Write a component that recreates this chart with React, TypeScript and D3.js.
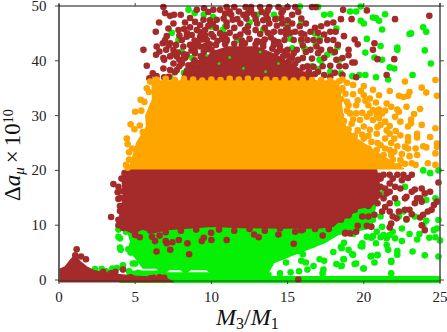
import React from 'react';
import * as d3 from 'd3';

type Pt = [number, number];

/* ─── Axis ticks ─── */
const X_TICKS = [0, 5, 10, 15, 20, 25];
const Y_TICKS = [0, 10, 20, 30, 40, 50];

/* ─── Dense clouds: outlines, the points inside can't be told apart ─── */
const GREEN_MASS: Pt[] = [[3.9, 10], [4.5, 9], [4.7, 7], [4.55, 5.5], [5.1, 3.8], [5.5, 2.2], [6.4, 2.2], [6.6, 1.4], [7, 1.4], [7.2, 1.9], [8, 1.9], [8.3, 1.2], [8.6, 1.9], [9.7, 1.9], [10, 1.2], [13.7, 1.2], [14.1, 3.2], [15.2, 4.4], [16.3, 5.6], [17.4, 6.8], [18.3, 8.3], [19.5, 9], [20.5, 9.5], [20.8, 14], [5, 14]];
const GREEN_BAND_LEFT: Pt[] = [[4.5, 1.6], [5.5, 1.6], [6.4, 1.6], [7, 1.3], [9, 1.3], [11, 1.3], [13.9, 1.3], [13.9, 0], [4.5, 0]];
const GREEN_BAND: Pt[] = [[4, 0.6], [25, 0.6], [25, -0.4], [4, -0.4]];
const BROWN_LOW: Pt[] = [[0, -0.3], [0, 1.9], [0.4, 2.4], [0.8, 3.8], [1.05, 4.5], [1.4, 3.3], [1.8, 2.4], [2.3, 1.7], [3.5, 1.1], [5, 0.7], [7, 0.3], [7.5, -0.3]];
const BROWN_MASS: Pt[] = [[4.45, 20.5], [4.15, 18], [4.25, 15.5], [4, 12], [3.9, 10], [4.4, 9.1], [4.8, 8.6], [5.5, 9.3], [6.2, 8.6], [7.1, 9.2], [8, 9.4], [9, 9.6], [10, 9.8], [12, 9.6], [15, 9.5], [17, 9.5], [18, 9.8], [18.4, 10.8], [19.1, 11.7], [19.5, 13], [20.5, 13.5], [21, 15], [21, 18], [20.8, 20.5]];
const BROWN_TOP_MASS: Pt[] = [[8, 36], [8.2, 38], [9.3, 39.5], [10, 41.5], [11, 42.5], [13, 42.5], [14.3, 41], [15.5, 39], [16.5, 37], [17, 36]];
const ORANGE_MASS: Pt[] = [[6.1, 36.3], [6.15, 33], [5.7, 30], [5.75, 28], [5.1, 25], [4.9, 23], [4.6, 20.3], [22.6, 20.3], [22, 21.3], [21, 23], [20.2, 24.5], [19.4, 26], [18.8, 28], [18.6, 30], [18.5, 33], [18.3, 36.3]];

/* ─── Points that stand out on their own ─── */
const GREEN_POINTS: Pt[] = [
  [15.8, 49.9], [17, 49.8], [19.8, 49.9], [17.4, 48.4], [17.8, 48.5], [19.1, 49], [19.5, 49], [20, 46.8], [19.8, 47.3], [20.6, 47.9], [20.8, 47.8], [21, 47.3], [21.4, 48.5], [21.2, 45.7],
  [20.2, 44], [21.1, 42.7], [20.1, 41.5], [22.2, 42.4], [22.2, 42], [24, 41.9], [23, 44.9], [23.1, 45], [23.9, 46.1], [24.1, 45.3], [24.4, 39.5], [21.2, 40.2], [20.7, 40.6], [21.7, 38.8], [22, 38.6],
  [23.2, 37.4], [21.6, 36.6], [20.8, 37], [20.1, 37.4], [19.7, 37.4], [19.25, 37.2], [18.5, 37.7], [18.27, 42.5], [18, 41.5], [17.6, 41.1], [18.4, 40.2], [17.2, 40], [17, 38.5], [16.6, 39],
  [15.9, 47], [16.8, 45], [15.2, 44], [16, 40.5], [18.2, 45.9], [17.1, 44], [16.2, 42],
  [7.4, 45.1], [7.84, 43.8], [8.05, 41.7], [8.2, 37.8], [7.3, 37], [8.75, 40.5], [8.5, 49.3], [8.9, 48.7], [9.5, 48.4], [9.96, 46.2], [10.1, 48], [10.75, 45.6], [10.9, 46.2], [11.7, 43.8], [12.5, 47], [13, 48.4], [13.4, 45.7], [14.1, 48.4], [14.3, 47.7], [15, 46.8], [15.3, 42.3], [15.9, 43.5], [16.85, 42.9], [17.1, 40.2], [17.8, 38], [15.5, 37.4], [16.1, 42.3],
  [3.9, 9.2], [3.9, 7.9], [4, 7.6], [4, 5.9], [4.05, 5.5], [4.55, 5.6], [4.7, 5], [4.84, 3], [5, 3], [2.37, 2], [2.8, 2], [3.1, 1.6], [3.8, 2.2], [4.2, 2.7], [4.6, 1.6], [5.2, 1.3], [3.5, 2.1], [4.4, 8.8],
  [14.1, 4.7], [14.5, 4.3], [14.9, 3.2], [15.9, 3.5], [16.2, 3.2], [16, 4.7], [16.7, 2.55], [16.3, 1.9], [15.75, 1.6], [17.4, 3.5], [17.35, 1.9], [17.1, 3.8], [18, 5.1], [18.5, 6], [18.7, 3.8], [18.2, 2.9], [18.5, 2.55], [19.5, 3], [20, 2.1], [20.5, 4.4], [20.9, 4.5], [20.7, 3.2], [21.8, 3.5], [21.8, 1.2], [22.2, 5.3], [23.2, 5.2], [24, 4.5], [24.9, 4.3], [19.25, 4.7], [19.8, 6.2], [20.5, 7.7], [18.7, 6.8],
  [18.66, 3.8], [19.4, 2.9], [19.97, 2.1], [18.55, 2.6], [19.3, 4.6], [19, 5.5], [18.55, 5.8], [19.9, 6.1], [19.9, 6.7], [20.45, 4.3], [20.9, 4.6], [21.8, 3.3], [22.2, 4.6], [21.6, 5.5], [21.5, 6.4], [20.8, 6.7], [22.5, 7.1], [22.05, 7.6], [21.5, 7.6], [21.1, 7.8], [20.6, 8], [20.2, 7.9], [23, 8.4], [23.5, 7.4], [23.65, 8.4], [24.3, 7.7], [24.7, 7.8], [25, 7.2], [24.6, 9.1], [24.8, 9.4], [24.9, 10.95], [24.1, 10.8], [23.9, 10], [23.35, 11.6], [22.8, 11], [22.6, 12.5], [23.9, 20], [24.9, 20], [24.35, 19.5], [21.1, 15.8], [22.7, 17], [24.1, 14.6], [24.7, 14.9], [22.2, 14], [22.3, 11.6], [21.1, 11.6], [20.6, 11], [21.2, 9.7], [20.85, 8.8], [21.3, 8.2], [21.7, 8.2], [21.9, 8.8], [22.5, 9.4], [15.2, 1.4], [14.5, 1.2], [17.3, 1.2], [19.3, 8.4], [18.2, 8.9], [17.5, 7.6], [16.6, 6.4], [15.7, 5.3], [14.9, 4.6],
];

const BROWN_POINTS: Pt[] = [
  [6.85, 49.8], [6.96, 48.7], [7.29, 48.2], [7.55, 48.4], [7.99, 48.4], [8.27, 47], [7.51, 46.8], [7.18, 45.9], [7.84, 45.6], [8.21, 45.8], [7.07, 44.5], [6.96, 43.8], [7.29, 43.2], [6.81, 43.2], [6.41, 42.6], [6.59, 41.7], [6.37, 41.1], [7.03, 42], [7.51, 42], [7.68, 42.9], [8.06, 43.8], [8.38, 44.4], [8.71, 44.7], [9.04, 45.6], [9.26, 46.5], [9.59, 45.6], [9.04, 49.3], [9.52, 49.6], [10.13, 49.3], [10.57, 49.3], [8.6, 47.8], [8.93, 47.1], [9.48, 47.5], [10.35, 47.5], [10.57, 45], [10.13, 44.4], [9.7, 43.8], [9.26, 44.4], [8.6, 42.9], [8.16, 42.6], [8.38, 41.1], [7.73, 40.8], [7.29, 40.8], [6.85, 40.5], [7.51, 39.5], [6.85, 38.6], [7.29, 38.3], [7.73, 38.3], [8.06, 39.5], [8.49, 39.2], [8.93, 41.4], [9.26, 42.6],
  [5.54, 42], [5.76, 39.1], [6.15, 37.7], [5.93, 36.8], [6.35, 45.3], [6.57, 47], [6.4, 37.2], [6.9, 37], [7.2, 37.1],
  [11, 49.8], [11.5, 49.8], [12.25, 49.8], [12.6, 49.8], [13.2, 49.8], [13.8, 49.8], [14.4, 49.8], [15, 49.8], [15.5, 49.8], [16.6, 49.8], [16.85, 49.8],
  [11.3, 48.4], [12.1, 48.4], [12.8, 48.4], [13.6, 48.4], [15.3, 48.4], [16.2, 46.8], [15.3, 46.8], [14.65, 46.8], [13.8, 46.8], [13, 46.8], [11.9, 46.8], [17.6, 46.8], [18, 47],
  [14.1, 45.3], [14.55, 45.3], [15.5, 45.3], [16.5, 45.3], [17.8, 45.3], [18.15, 45.3], [18.7, 44.5], [14.8, 43.8], [15.4, 43.8], [16.3, 43.8], [16.7, 43.8], [17.6, 43.8], [15, 42], [15.6, 42], [16.5, 42], [17.2, 42], [17.8, 42], [19, 42], [15.3, 40.5], [16, 40.5], [17.4, 40.5], [18.6, 40.5], [19.25, 39.7], [15.1, 39], [16.3, 39], [17.3, 39], [18.4, 39], [18.8, 39], [15.75, 37.4], [16.5, 37.4], [15.3, 37.4], [17.4, 37.4], [18.6, 37.4],
  [9.8, 48.9], [10.9, 48.6], [11.8, 49], [12.4, 48.7], [13.3, 48.9], [14.6, 48.7], [15.7, 48.9],
  [9.9, 47.4], [10.8, 47.7], [11.4, 47.5], [12.3, 47.7], [13.4, 47.4], [14.2, 47.6], [15, 47.4], [15.9, 47.7],
  [8.6, 46.1], [9.8, 46.4], [10.3, 46], [11, 46.3], [11.5, 46], [12.4, 46.3], [13.5, 46], [14.3, 46.4], [15, 46], [15.8, 46.3], [16.8, 46], [17.2, 46.3],
  [8.4, 45], [9.3, 45.2], [10, 44.9], [11.2, 45.1], [11.9, 44.8], [12.4, 45.2], [13.2, 44.9], [13.7, 45.1], [14.9, 44.8], [15.9, 45], [16.1, 44.8], [17, 45.1], [17.4, 44.8],
  [8.9, 43.7], [9.4, 43.9], [10.4, 43.6], [11, 43.9], [12, 43.7], [12.5, 44], [13, 43.6], [13.5, 43.9], [14.1, 43.7], [15.9, 43.9], [17.1, 43.6], [18, 43.8],
  [7.2, 42.8], [8.9, 42.9], [9.6, 42.7], [14.5, 42.7], [16, 42.8], [16.9, 42.6], [18.3, 42.9],
  [7.8, 41.5], [9.5, 41.7], [14.8, 41.7], [15.4, 41.4], [16.2, 41.6], [17, 41.4], [18.1, 41.6],
  [6.9, 40.2], [8.2, 40.4], [8.9, 40.1], [9.4, 40.4], [15.7, 40.2], [16.6, 40.4], [18.2, 40.2],
  [7.9, 39], [16.7, 38.9], [17.8, 39.1], [7.6, 37.9], [17, 38], [18.1, 37.8], [17.8, 37.1],
  [11.6, 44.4], [12.2, 45.6], [13.9, 44.3], [14.4, 43.4], [10.7, 44], [9.9, 43], [12.9, 45.6], [13.4, 43.2], [11.7, 47.6], [13.7, 47.6], [14.6, 47.7], [11, 47], [10.1, 46.7], [9.1, 43.4], [9.6, 44.6], [10.9, 44.7], [12.9, 47.6], [14.9, 45.7], [15.2, 45.1], [8.7, 41.9], [8.3, 40.6], [9.8, 42.1], [7.9, 40.2], [8.8, 38.9], [7.5, 41.2], [7.9, 44.6], [14.7, 49.2], [12.6, 49.2], [11.2, 49], [13.7, 49.2],
  [9.2, 39.6], [9.7, 40.2], [10, 42], [9.5, 41], [10.3, 42.9], [10.9, 43], [11.5, 43.1], [12.2, 43.2], [12.9, 43], [13.4, 42.6], [14, 42.2], [14.3, 41.6], [14.7, 40.8], [15.1, 40], [15.5, 39.5], [16, 38.8], [16.4, 38], [8.4, 38.2], [8.8, 39.4], [9, 38.3], [8.5, 37.3], [9.3, 40.8], [8.2, 41.2], [8.9, 42], [16.8, 37.6], [15, 41], [14.5, 42], [15.8, 38], [16.2, 37.5], [15.2, 38.4], [14.1, 42.9], [10.3, 41.4], [11, 43.6], [12, 42.9], [13.3, 43.4],
  [24.3, 48.2], [22.05, 47.6], [18.64, 49.3], [18.5, 47.6], [19.2, 47.6], [20.2, 49.2], [19.4, 43.9], [19.6, 43], [20.7, 43.2], [20.6, 42], [19, 41], [20.9, 40.3], [22, 40.3], [19.4, 39.7], [21.5, 37.4], [19.5, 37],
  [3.57, 17.5], [3.9, 17], [3.85, 16], [3.9, 14.8], [3.42, 11.5], [4, 12.6], [4.2, 16.2], [6.3, 7.1], [6.4, 5.2], [7, 7.1], [7.07, 6.7], [7.3, 5.5], [7.44, 6.9], [7.86, 7.3], [8.43, 6.7], [8.54, 4.7], [9.37, 7.1], [9.5, 7.7], [9.98, 8.6], [10, 7.3], [6.1, 7.9], [6.6, 8.1], [5, 8.2], [5.3, 7.8],
  [2.9, 1.5], [3.7, 1.5], [4.2, 1.9], [1.16, 5.6], [1.45, 4.3], [1.77, 3.8], [1.07, 4.5], [4.7, 0.5], [6, 0.3], [6.2, 0.4], [6.6, 0.5], [6.9, 0.4], [3.4, 1.2],
  [11, 7.3], [12.8, 8.3], [13.1, 7.8], [14.4, 8.3], [15.4, 6.6], [15.5, 8.8], [15.9, 9.1], [17.3, 8.1], [18.8, 8.6], [19.1, 8.5], [15.7, 0.1],
  [18.77, 8.5], [19.5, 8.8], [19.6, 9.9], [20.2, 9.9], [20.5, 9.7], [19.9, 11.6], [20.3, 11.6], [20.7, 11.9], [21.2, 12.5], [21.4, 13.3], [21.7, 14], [22.05, 14.9], [21.7, 12.5], [21.9, 11.6], [22.15, 11.25], [21.8, 10.3], [21.7, 9.6], [22.3, 12.5], [22.7, 12.8], [23, 12.8], [23.15, 12], [22.8, 11.1], [23.7, 11.4], [23.35, 14], [23.7, 14.9], [23.8, 14.3], [24, 15.8], [23.8, 16.7], [23.35, 16.5], [22.9, 18.6], [23.15, 19.2], [22.6, 19.2], [22.2, 19.2], [21.7, 19.2], [21.3, 19.2], [20.7, 19], [20.2, 19.6], [21.7, 17.6], [21.4, 16.7], [21.7, 16.1], [22.05, 17], [22.4, 16.7], [22.8, 15.2], [23.15, 16.1], [23.5, 14.9], [24.35, 16.1], [24.6, 13.7], [24.8, 14.3], [24.2, 12.5], [23.9, 11.9], [24.45, 12.8], [24.9, 17.8], [24, 9.1], [23.8, 10], [21.5, 15.8], [22.7, 14.9], [21.3, 14.9], [21.1, 18.5], [22.5, 18.2], [21.9, 18.5],
  [5, 8.9], [6, 9], [7, 8.7], [8, 9], [9, 9.2], [10.5, 9.2], [11.5, 9], [12.5, 9.3], [13.5, 9], [14.5, 9.4], [16, 9.2], [16.8, 9.3], [17.7, 9.3],
  [4.3, 19.5], [4.1, 18.5], [4.4, 17], [4.05, 15], [4, 13.5], [3.9, 11], [3.9, 10], [4.2, 9.5],
  [21, 19], [21.1, 17], [21, 15.5], [20.9, 14], [20.3, 13.5], [19.4, 12.8], [19, 11.8], [18.5, 11],
];

/* small green gaps showing through the brown */
const GREEN_SPECKS: Pt[] = [[10.5, 39.5], [12.1, 38.6], [13.55, 38], [14.4, 39.5], [9.7, 41], [13.2, 41.6], [11.2, 40.6]];

const ORANGE_POINTS: Pt[] = [
  [19.3, 35.6], [20, 35.4], [20.6, 34.7], [21, 33.7], [21.7, 34.5], [22.7, 36.2], [23.8, 35.1], [24.7, 36.5], [24.1, 34.2], [24.8, 33.6], [23, 34.3], [22.9, 33.6], [22.6, 33.4], [22.3, 33.6], [21.5, 32.2], [21.8, 31.6], [22.2, 31.1], [22.8, 31.6], [23.7, 31.2], [23.3, 30.3], [23.1, 29.3], [23.8, 28.3], [24.7, 27.7], [22.3, 30.7], [22.05, 29.8], [21.7, 28.1], [22.4, 28.9], [22.9, 28], [23.1, 28.6], [22.4, 26.4], [22, 25.8], [22.9, 26.1], [22.9, 25.3], [23.5, 26.7], [23.5, 26], [24.35, 26.1], [24.8, 24.9], [24.8, 24.3], [23.9, 24.4], [24.1, 24.2], [22.7, 24.3], [22.9, 24], [23.4, 24], [23.5, 22.8], [24.7, 23.1], [22, 23.4], [21.8, 22.8], [22.2, 24.4],
  [19.3, 33.9], [20, 33.7], [20.4, 33.1], [19.6, 32.8], [19.5, 31.9], [20.3, 31.9], [20.6, 31], [21, 31.1], [21.2, 30.4], [20.85, 30.1], [21.4, 28.9], [21.1, 28.3], [20.6, 29.2], [20.2, 29.8], [19.1, 30.4], [19.5, 30.4], [19.75, 29.2], [19, 31.9], [21.7, 26.7], [21.4, 25.8], [20.85, 26.7], [20.4, 27.4], [20, 28], [20.5, 25.2], [21.1, 24.6], [21.4, 24], [20.85, 23.7], [20.3, 24], [19.75, 24.3], [20.1, 23.1], [21.3, 22.8], [20.6, 22.6], [21.7, 23.7],
  [24.2, 21.3], [24.7, 21], [23.15, 21.3], [23.4, 21], [22.7, 21.2], [22.3, 20.8], [21.5, 21.3], [21.2, 21.2], [20.6, 21.2], [20.3, 21.2], [19.7, 21.3],
  [18.6, 35], [18.9, 36], [18.5, 33], [18.4, 31], [18.7, 29], [19, 27.5], [19.4, 26.3], [18.8, 34], [18.9, 30.9], [19.3, 29.3], [19.9, 26.5], [19.6, 27.3], [18.4, 36.3], [18.6, 36.6],
  [18.4, 34.5], [18.9, 32.5], [18.5, 30], [18.3, 28.6], [19.2, 28.5], [19.9, 30.5], [20.1, 32.7], [19.8, 34.5], [20.8, 32.4], [21.4, 30.9], [20.4, 30.4], [18.7, 27], [19.3, 25.6], [20, 25.8], [20.3, 26.3], [20.9, 25], [21.8, 25], [21.5, 27.3], [22.1, 27.2], [21, 29.5], [20.9, 27.9], [21.9, 22], [22.4, 21.9], [21, 22.2], [20, 22], [23, 22.6], [22.5, 23],
  [6.4, 36.6], [7, 36.7], [7.6, 36.5], [8.2, 36.7], [8.8, 36.6], [9.4, 36.4], [10, 36.6], [10.6, 36.5], [11.2, 36.7], [11.8, 36.6], [12.4, 36.7], [13, 36.5], [13.6, 36.6], [14.2, 36.5], [14.8, 36.6], [15.4, 36.4], [16, 36.6], [16.6, 36.5], [17.2, 36.5], [17.8, 36.4],
  [5.98, 36.2], [5.76, 35], [5.9, 34.3], [5.36, 32.9], [5.6, 32.5], [5, 30.7], [5.4, 30.9], [4.7, 28.4], [4.95, 27.5], [5.3, 28.2], [5.5, 27], [4.45, 25.8], [4.5, 24.8], [4.8, 24], [4.6, 23.3], [4.4, 21], [4.6, 22], [4.5, 20.5], [5, 21],
];

const W = 447;
const H = 332;
const FONT = "'Liberation Serif', serif";
const R = 3.3;

const x = d3.scaleLinear().domain([0, 25]).range([59, 440]);
const y = d3.scaleLinear().domain([0, 50]).range([280, 6]);

const outline = d3.line<Pt>().x(d => x(d[0])).y(d => y(d[1])).curve(d3.curveLinearClosed);

function Mass({ pts, color }: { pts: Pt[]; color: string }) {
  return <path d={outline(pts) ?? ''} fill={color} stroke={color} strokeWidth={1.5} strokeLinejoin="round" />;
}

function Dots({ pts, color, r = R }: { pts: Pt[]; color: string; r?: number }) {
  return (
    <g fill={color}>
      {pts.map((d, i) => <circle key={i} cx={x(d[0])} cy={y(d[1])} r={r} />)}
    </g>
  );
}

export default function App() {
  const green = '#05f005';
  const brown = '#a52a2a';
  const orange = '#ffa500';
  return (
    <svg width={W} height={H} style={{ position: 'absolute', left: 0, top: 0, background: '#fff' }} fontFamily={FONT}>
      <Mass pts={GREEN_MASS} color={green} />
      <Mass pts={GREEN_BAND_LEFT} color={green} />
      <Mass pts={GREEN_BAND} color={green} />
      <Dots pts={GREEN_POINTS} color={green} />
      <Mass pts={BROWN_LOW} color={brown} />
      <Mass pts={BROWN_MASS} color={brown} />
      <Mass pts={BROWN_TOP_MASS} color={brown} />
      <Dots pts={BROWN_POINTS} color={brown} />
      <Dots pts={GREEN_SPECKS} color={green} r={1.4} />
      <Mass pts={ORANGE_MASS} color={orange} />
      <Dots pts={ORANGE_POINTS} color={orange} />

      {/* frame */}
      <line x1={x(0)} x2={x(0)} y1={y(50) - 2} y2={y(0) + 2} stroke="#555" strokeWidth={1.8} />
      <line x1={x(25)} x2={x(25)} y1={y(50) - 3} y2={y(0) + 2} stroke="#555" strokeWidth={1.6} />
      <line x1={x(0)} x2={x(25)} y1={y(50)} y2={y(50)} stroke="#111" strokeWidth={1.2} />
      <line x1={x(0) - 1} x2={x(25)} y1={y(0) + 1} y2={y(0) + 1} stroke="#1a3a1a" strokeOpacity={0.85} strokeWidth={1.2} />

      {X_TICKS.map(t => (
        <g key={t}>
          <line x1={x(t)} x2={x(t)} y1={y(50)} y2={y(50) - 3} stroke="#444" />
          <line x1={x(t)} x2={x(t)} y1={y(0) + 1} y2={y(0) + 4} stroke="#444" />
          <text x={x(t)} y={302} fontSize={15} textAnchor="middle" fill="#222">{t}</text>
        </g>
      ))}
      {Y_TICKS.map(t => (
        <g key={t}>
          <line x1={x(0) - 4} x2={x(0)} y1={y(t)} y2={y(t)} stroke="#444" />
          <line x1={x(25)} x2={x(25) + 4} y1={y(t)} y2={y(t)} stroke="#444" />
          <text x={46.5} y={y(t) + 5} fontSize={15} textAnchor="end" fill="#222">{t}</text>
        </g>
      ))}

      {/* axis titles */}
      <text x={216} y={325} fontSize={24} fill="#111">
        <tspan fontStyle="italic">M</tspan>
        <tspan fontSize={16} dy={4}>3</tspan>
        <tspan dy={-4}>/</tspan>
        <tspan fontStyle="italic">M</tspan>
        <tspan fontSize={16} dy={4}>1</tspan>
      </text>
      <text transform="translate(20,201) rotate(-90)" fontSize={23} fill="#111">
        <tspan>Δ</tspan>
        <tspan fontStyle="italic">a</tspan>
        <tspan fontStyle="italic" fontSize={15} dy={4}>μ</tspan>
        <tspan dy={-4} dx={4}>×</tspan>
        <tspan dx={4}>10</tspan>
        <tspan fontSize={14} dy={-7}>10</tspan>
      </text>
    </svg>
  );
}
